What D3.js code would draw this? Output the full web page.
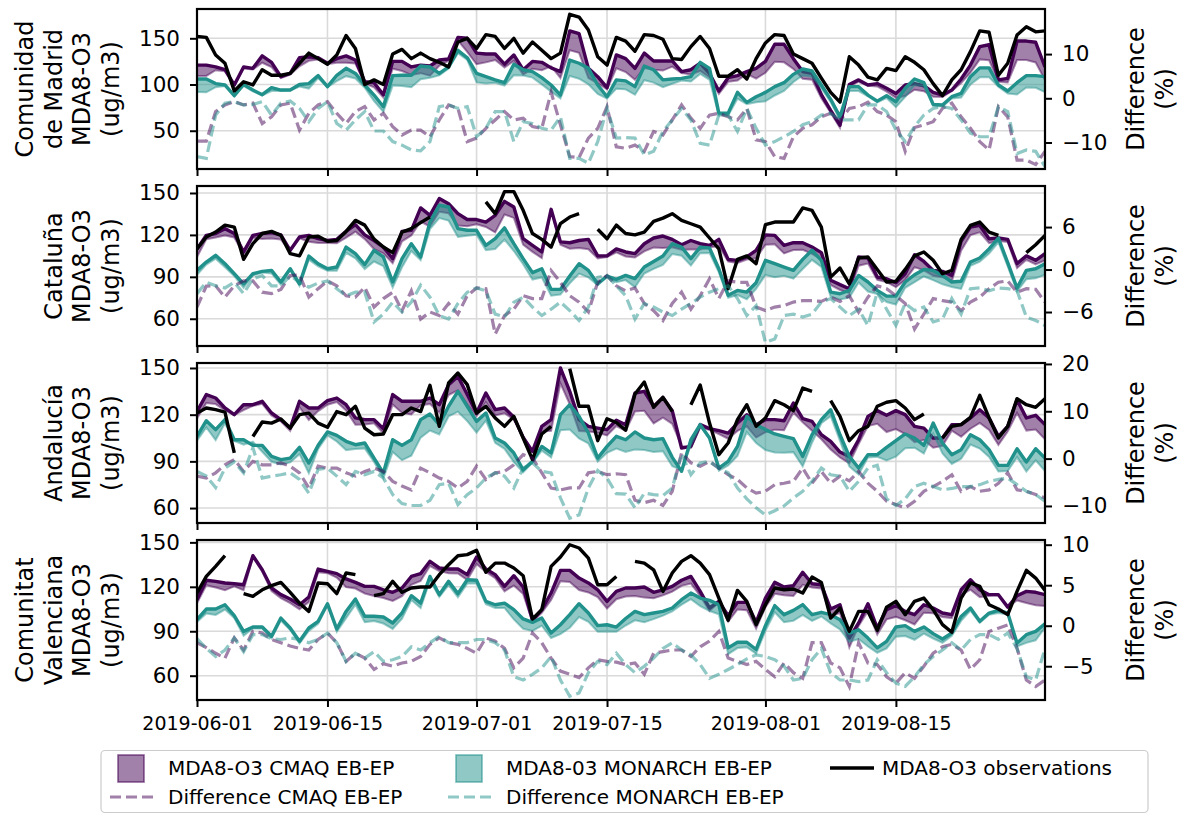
<!DOCTYPE html>
<html>
<head>
<meta charset="utf-8">
<script src="https://cdn.jsdelivr.net/npm/d3@7"></script>
<style>
body { margin: 0; background: #fff; }
svg text { font-family: "DejaVu Sans", sans-serif; fill: #000; }
</style>
</head>
<body>
<script>
// Canvas setup
const W = 1189, H = 814;

const startDay = new Date(2019, 5, 1);
const endDay = new Date(2019, 8, 1);
const days = d3.timeDay.range(startDay, endDay); // 2019-06-01 .. 2019-08-31
const xTickLabels = ["2019-06-01", "2019-06-15", "2019-07-01", "2019-07-15", "2019-08-01", "2019-08-15"];

// ---- Comunidad de Madrid
const madridObs = [152,151,132,123,93,103,99.5,116,110,110,112,123,134,128,122,132,153,139,100,105,100,133,138,128,134,128,124,119,146,150,139,154,152,139,150,134,146,137,128,134,176,173,159,130,121,151,147,136,154,153,149,128,127,141,152,139,109,109,116,106,128,145,154,153,133,128,123,107,91.5,81,130,121,108,105,117.5,115,130,124,116,101,88,105,116,135.6,158,156.5,110,123,153.6,162.6,157,158];
const madridCmaq = [121,121,119,116,99.5,119,117.5,131,124,108.5,112,129,130,129,123,128,131,126.5,103,102,89,125,125,119,121,120,126.5,127.6,151,150,134,133,133,122,132,116,125,124,118,114,158,155,117.5,108.5,96.6,132,128,117.5,134,125.5,125.5,125.5,114,116,123,112,93,107.4,109.6,114,117.5,125,143.5,143.5,128,114,112,89,72,56,100,105,99.5,101,96,90.4,99.5,101,98.7,91.5,88.6,94,106,121,141,143,105,106.7,147,147,145.7,119];
const madridCmaqDiff = [-9.7,-9.7,-3,-1.5,-0.75,-1.5,-1.1,-5.7,-4.2,-1.5,-1.1,-7.2,-3.4,-1.5,-0.75,-3.4,-5.7,-3,-1.9,-4.9,-3.4,-6.4,-8.3,-7.2,-7.2,-8.7,-4.9,-1.5,-2.3,-9.8,-9,-6.8,-4.9,-3,-4.9,-4.5,-6.4,-6.8,1.4,-6,-13.2,-13.4,-9,-6.8,-1.9,-11,-11.3,-10.6,-12,-7.5,-8.3,-4.9,-1.5,-4.5,-6.8,-3.8,-3.4,-4.2,-4.9,-2.3,-9.4,-9.8,-13.2,-13.6,-8.7,-6.8,-6,-4.2,-3.4,-5.1,-2.3,-1.9,-0.9,-3,-3.8,-5.3,-12,-6.6,-6,-5.3,-2.3,-1.1,-4.2,-6.8,-9.8,-11.7,-1.9,-4.2,-14,-14,-15,-12];
const madridMonarch = [106,106,101,99.5,88,100,94,89,96.6,94,94,100,101,109.6,97.7,110,117.5,112,99.5,88.6,76,109.6,110,110,120,119,112,119,137,129,112,108.5,105,102,122,116,114,107.4,99.5,88.6,126.5,123,117.5,99.5,86.8,105,104,97.7,120,116,105,106,106.7,108.5,124,117.5,69,69,91.5,80.7,86.8,91.5,97.7,102,111,116.8,114.6,99.5,84,65,97.7,97.7,88.6,82,88,81.4,96,106,102,78.5,77.8,86.8,90.4,108.5,118,118,99.5,93,102,109.6,109.6,108.5];
const madridMonarchDiff = [-13.2,-13.6,-3.8,-1.1,-0.75,-1.5,-1.4,-0.75,-3.8,-1.1,-0.6,-2.3,-5.3,-2.3,-0.75,-5.7,-7.2,-4.9,-3,-7.4,-7.4,-9.8,-10.6,-11.7,-11.9,-9.8,-1.9,-1.5,-2.3,-1.9,-8.7,-6.8,-3,-3,-9.8,-5.3,-5.7,-6.8,-7.2,-4.2,-13.6,-13.6,-14.7,-9.8,-2.3,-9,-8.9,-9,-12.8,-12,-7.5,-4.9,-2.3,-4.9,-10.2,-10.6,-3.8,-3.8,-7.5,-2.3,-6.8,-10.6,-9.8,-8.7,-7.5,-6,-5.3,-3.8,-3.4,-4.9,-4.9,-4.9,-1.5,-1.5,-3,-7.2,-9.8,-6.4,-3.8,-2.3,-1.9,-2.3,-4.9,-7.9,-8.7,-8.7,-1.9,-3,-12.5,-11.7,-12,-15.5];

// ---- Cataluña
const cataluObs = [110,118.5,122,127,125.6,102.5,113.7,121,122.5,119.7,106.6,105,118.5,119,115.4,116,122.5,130.4,127,117,111.3,107.3,122,124.5,128.8,132.8,null,null,null,null,null,143.6,135.2,151,151,137.6,121,116.8,111.3,128,132.8,135.2,null,124,117.3,127,121,120,122,129.7,132,135.2,130.4,128,125.6,117.8,110,81.5,102.5,105,99.4,127.3,129.2,129.2,129.2,139.3,137.6,125.6,89.8,96.3,85,103.5,104.2,95.3,86.3,86.8,95.3,105,107.8,101.8,92.2,94.6,116.8,126.8,129.2,122,119.7,null,null,107.3,113,119.7];
const cataluCmaq = [110,119.7,121,124.5,121,107.8,119.7,121,121.6,120,109,118.5,119.7,117.3,116,116.8,122.5,127.3,120,116,111.3,103,122.5,123.3,139.3,134,146,142.3,135.2,131,131,129.2,134,144,140,117.3,112.5,107.8,138.3,115,114.4,116,116.8,105,105,110,107.8,106.6,113.7,117.8,119.2,116.8,113,116,113.7,112.5,116.8,102.5,101.8,104.2,109,120,119.7,112.5,114.4,114.4,111.3,107.3,87.5,84.4,81.5,104.2,103.5,89.8,88.6,85.8,92.2,105.8,101,94.6,93.9,91,115.4,125.6,126.8,117.3,117.8,116.8,99.4,105,101.8,106.6];
const cataluCmaqDiff = [-5.3,-2.35,-2.3,-3.9,-2.3,-1.6,-1.6,-3.2,-3.4,-2.8,-0.85,-0.75,-3.9,-2.7,-1.6,-2.3,-3.7,-3.9,-2.5,-5.3,-4.1,-3.2,-5.8,-3,-7,-6,-6.5,-4.8,-6.3,-3.7,-2.6,-2.7,-9.1,-6.5,-5.6,-3.7,-4.1,-4.1,-0.15,-1.8,-3.7,-4.6,-6,-1.8,-0.85,-2.3,-3,-2.6,-4.8,-5.8,-7.2,-4.8,-3.2,-5.6,-3.7,-1.3,-4.1,-1.6,-1.8,-1.8,-5.3,-5.8,-5.3,-5.1,-4.6,-4.4,-4.4,-4.5,-3.9,-4.5,-3.7,-6,-3.9,-2.3,-2.7,-3.7,-4.8,-8.4,-6.3,-4.1,-4.4,-4.6,-5.8,-4.6,-3.9,-2.7,-1.8,-1.6,-3.2,-2.7,-2.8,-4.6];
const cataluMonarch = [94.6,100.6,105.4,99.4,92.2,85,92.2,93.9,94.6,86.3,95.8,85,104.9,99.4,95.8,97,111.3,106.6,98.7,109,104.2,86.3,103,113.7,104.2,129.2,141.2,140,124.5,123.3,123.3,112.5,117.3,125,113.7,103,93,95.8,81,81,90.6,99.4,94.6,85,90.6,88.2,91,88.7,97,101,104.9,113.7,111.3,103,111.3,110.6,95.8,76.8,80.3,79.1,85.8,101.8,99.4,97,94.6,102.5,109,101.8,79.1,77.9,80.3,91,86.3,80.3,76.2,76.2,86.3,91.5,95.3,94.6,91,86.3,86.8,100.6,103.5,110,117.8,100.1,82,94.6,95.8,99.4];
const cataluMonarchDiff = [-3.4,-1.8,-2.3,-2.6,-1.8,-3.4,-1.3,-0.85,-2.3,-2.3,-0.85,-1.8,-2.5,-1.9,-1.6,-2.7,-3.7,-3.2,-3.2,-7.4,-6.3,-4.6,-6,-4.6,-2.2,-3.9,-6.5,-7,-4.8,-3.2,-2.6,-3,-6.3,-6.7,-4.6,-3.9,-5.3,-6.5,-5.6,-4.6,-5.8,-7.2,-5.3,-1.1,-0.85,-2.3,-3.7,-7,-4.8,-5.3,-6,-6.5,-5.6,-4.8,-3.9,-3.2,-2.7,-2.3,-4.1,-6.5,-5.1,-10.3,-9.8,-6.5,-6.3,-6.7,-6.3,-4.6,-4.1,-5.3,-6.5,-5.6,-7.9,-3.2,-5.6,-7.9,-4.8,-5.8,-5.3,-7.4,-7,-4.1,-6.3,-2.7,-2.6,-3,-2.6,-2.7,-3,-6.7,-7.2,-7.9];

// ---- Andalucía
const andaluObs = [121,124.3,123.2,121.7,95.4,null,106,115.3,114.6,117.2,111.4,120,121,114.6,111.9,122,120,125.4,111.4,107.1,107.6,120,120,124.3,122,138.9,112.5,140.4,146.8,139.3,121,125.4,117.9,112.5,118.9,105,91.1,107.6,112.5,null,149.6,125.4,125.4,103.3,117.4,115,110,133.3,141,124.7,131.1,122.1,null,126.4,139,114.6,94.3,101.8,116.8,126.4,112.5,117.9,129,126.4,122.6,137.1,135,null,129,118.9,103.3,109.7,112.5,125.4,128,129,124.3,116.8,120.4,null,105,112.5,113.6,118.3,132.4,117.9,105,112.5,130.3,126.4,124.7,130.3];
const andaluCmaq = [122.1,132.9,130.7,124.3,120,126.4,126.4,128.6,121.1,116.8,111.4,128.6,124.3,124.3,129,130.7,126.4,117.9,116.8,116.8,111,132.9,128.6,128.6,128.6,130.7,126.4,139.3,144.6,132.9,121.1,133.9,123.2,124.3,118.3,105.4,96.4,112.5,116.8,150,135,116.8,112.5,111.4,110.4,116.4,113.5,133.9,135,125.4,131.1,122.6,98.6,99.6,113.6,111,109.7,108.2,114.6,120,113.6,116.8,116.8,116.1,127.5,117.4,115.7,107.1,102.9,96,93.2,103.9,118.9,122.6,119.6,122.6,120,112.5,111.4,105,105,113.6,113.6,117.9,123.2,117.9,106.1,112.5,129.6,117.9,119.6,113.6];
const andaluCmaqDiff = [-3.7,-4.1,-3,-1.3,-0.2,-2.7,-0.6,-1.3,-1.3,-0.9,-1.6,-3,-6.2,-1.6,-2,-2,-3,-3.7,-2.7,-2,-2.7,-4.8,-5.8,-6.6,-2,-3,-4.1,-4.8,-6.2,-4.8,-1.6,-4.4,-3,-2.7,-1.3,0.85,0.14,-3,-6.2,-6.6,-6.2,-6.2,-3,-2.7,-3.4,-3.2,-3.4,-8.8,-9.3,-8.8,-9.9,-6.9,1.2,-0.9,-1.6,-0.6,-2,-3.4,-4.4,-6.2,-7.3,-6.9,-5.5,-5.2,-4.8,-2,-5.2,-2.7,-5.2,-3.7,-4.7,-2.7,-5.2,-6.9,-9,-9.7,-10.4,-9,-6.9,-5.9,-4.8,-3.4,-6.9,-5.9,-6.9,-6.6,-5.2,-3,-6.6,-6.9,-7.6,-8.3];
const andaluMonarch = [106.1,116.1,110.4,116.8,103.9,103.9,100.3,100.3,93.2,91.1,92.1,99,88.9,100.3,108.9,106.7,102.9,100.7,101.8,92.1,82.5,103.9,100.3,103.9,116.8,120.4,113.6,125.4,135,125.4,115.7,121.1,105,101.8,95.4,84.6,90,99.6,95.4,120,126.4,118.9,108.2,92.1,99.6,106.1,103.9,108.9,105,103.9,104.6,92.6,83.6,103.9,113.6,105,85.7,90,99.6,118.9,113.6,110.4,107.6,106.1,104.6,93.2,107.1,116.8,123.2,107.1,93.2,85.7,94.3,94.3,99,103.3,107.6,105,100.3,114.6,101.8,94.3,97.5,107.1,103.9,97.5,87.4,87.4,98.1,89.6,98.1,92.1];
const andaluMonarchDiff = [-2.7,-3.7,-6.1,-2,-0.7,-3,2.3,-4.1,-3.7,-3.4,-3,-4.4,-7.3,-2.3,-2,-3.7,-5.5,-2.7,-3.4,-2.7,-4.1,-7.6,-9.5,-9.9,-9.9,-8.8,-5.5,-5.2,-9.7,-7.6,-6.2,-4.1,-3,-3.7,-6.2,-2,-0.9,-2.7,-3,-8.3,-12.6,-11.9,-6.2,-2.5,-4.1,-7.4,-7.5,-10.4,-7.3,-7.6,-7.8,-6.2,1,-3.4,-0.9,-0.6,-2,-3,-6.2,-8.5,-10.4,-11.9,-11,-10,-8.3,-6.9,-4.8,-2,-3.4,-3.7,-6.9,-4.8,-2,-1.4,-8.5,-9.9,-8.5,-5.9,-5.2,-5.9,-6.6,-6.3,-5.9,-5.9,-5.5,-4.8,-4.4,-4.1,-5.5,-6.9,-7.6,-9];

// ---- Comunitat Valenciana
const valenObs = [115.8,127,133.8,141,null,115.4,113.6,118,120.8,123,116.3,109,103.4,122.6,122.1,115.4,129.3,128.2,null,114,115.4,123.7,116.3,119.2,119.9,119.9,128.2,134.9,141,141.7,144.6,129.8,136,136,132.7,127.5,98.3,104.6,133.8,140.1,148.4,146.2,139.4,121.4,121.4,127,null,137.2,136,131.5,116.9,129.3,137.2,141,136,128.2,112.4,97.4,117.6,110.2,94.4,107.9,119.2,118,118.5,115.8,126.6,123,98.9,105.7,89.9,103.4,103.4,90.6,106.3,110.2,101.2,110.2,112.4,104.6,94.5,89.3,112.4,122.6,120.3,107.9,105,101.2,116.9,131.1,125.9,117.6];
const valenCmaq = [111.3,124.4,123.7,122.6,122.1,121.4,141,131.5,119.2,114.7,111.8,107.9,113.1,132,130.4,128.9,125.3,123,120.3,120.3,118,116.3,119.2,127,128.9,137.2,132.7,132,132,128.2,140.1,132,128.2,120.3,127.5,119.9,97.4,104.6,115.8,131.1,131.1,125.9,122.6,118,110.2,116.9,119.2,119.2,119.9,116.3,118,120.3,124.4,127,116.9,105.7,110.2,100.5,109.5,109.5,96,112.4,123,119.9,120.8,129.8,122.1,121.4,105,107.9,85.4,95.6,108.6,92.2,104.6,107.3,103.4,101.2,107.9,105.7,102.3,101.2,118,124.8,118,114.7,114.7,106.3,114,116.9,116.3,114.7];
const valenCmaqDiff = [-2.1,-2.7,-3.4,-4,-1.5,-3,-0.7,-0.9,-1.7,-2.1,-2.5,-2.8,-3,-1.7,-0.9,-2.1,-4.4,-3.4,-4,-5.4,-4.7,-5,-4.6,-4.4,-3.8,-2.3,-1.5,-2.1,-2.3,-2.8,-3.4,-1.5,-1.9,-2.8,-5.2,-4,-0.9,-2.1,-4,-5.6,-6,-6.4,-5.2,-4.2,-4.4,-4.5,-4.8,-4.6,-6,-3.4,-3.2,-3,-3,-3.8,-2.6,-1.9,-0.7,-4,-4.4,-4.8,-4.4,-5.4,-6.3,-4.6,-5.8,-6.5,-2.1,-2.1,-4.6,-5.2,-7.5,-2.1,-4.6,-4.8,-6.3,-7.1,-5.8,-6.5,-5,-3.4,-2.6,-2.3,-3,-5.4,-4.2,-0.7,-0.3,0.1,-2.8,-6.7,-7.5,-6.7];
const valenMonarch = [97.8,105,105,107.9,100.5,89.9,92.9,92.9,86.6,98.9,92.2,83.2,92.2,96.7,108.6,91.5,103.4,111.8,100.1,100.1,99.6,95.6,102.3,114,109,127,114.7,123.7,115.4,124.8,124.4,110.2,107.9,109,104.6,98.3,96,98.9,88.8,94.4,101.2,108.6,102.3,93.8,94.4,92.8,98.6,103.4,101.2,102.3,103.4,105.7,111.3,115.8,112.4,110.9,108,78.8,82.6,82.6,77.7,93.8,107.3,101.2,104.1,108,101.2,102.8,101.2,97.8,88.8,91,85.4,78.8,83.2,92.9,93.8,89.9,92.9,88.4,84.8,88.8,100,105.7,96.7,102.3,104.1,102.3,82,87.7,89.9,95.1];
const valenMonarchDiff = [-1.6,-2.8,-3.8,-3,-1.5,-3.2,-1.1,-1.1,-1.6,-1.7,-1.5,-1.7,-2.1,-1.7,-0.9,-2.1,-4.4,-3.4,-4,-3.2,-4.4,-4.2,-3.8,-2.6,-3,-2.1,-1.3,-2.1,-2.1,-2.1,-1.7,-1.7,-2.1,-3,-6.3,-6.7,-6,-5.2,-3.8,-6.7,-8.7,-8.3,-5.8,-4.4,-4.8,-3.4,-4.8,-5.8,-5,-4,-2.8,-2.1,-3,-3.6,-4.8,-6.5,-6,-5.4,-4.8,-4.1,-3.6,-3.8,-4.2,-5,-6.7,-6.5,-4.2,-2.8,-5.8,-6.7,-6.7,-6.9,-6.7,-4.2,-5.8,-7.1,-7.5,-6.3,-4.8,-3.8,-3,-2.1,-3,-1.7,-1.1,-1.1,-1.7,-0.9,-2.8,-6.3,-6.7,-2.8];

const legendLabels = ["MDA8-O3 CMAQ EB-EP", "MDA8-03 MONARCH EB-EP", "MDA8-O3 observations", "Difference CMAQ EB-EP", "Difference MONARCH EB-EP"];

const cmaqColor = "#440154";
const monarchColor = "#21918c";

const regions = [
    { label: ["Comunidad", "de Madrid", "MDA8-O3", "(ug/m3)"], obs: madridObs, cmaq: madridCmaq, cmaqDiff: madridCmaqDiff, monarch: madridMonarch, monarchDiff: madridMonarchDiff,
      yDomain: [8.6, 181.7], yTicks: [50, 100, 150], dDomain: [-16.0, 20.2], dTicks: [-10, 0, 10] },
    { label: ["Cataluña", "MDA8-O3", "(ug/m3)"], obs: cataluObs, cmaq: cataluCmaq, cmaqDiff: cataluCmaqDiff, monarch: cataluMonarch, monarchDiff: cataluMonarchDiff,
      yDomain: [40.5, 155], yTicks: [60, 90, 120, 150], dDomain: [-10.8, 11.8], dTicks: [-6, 0, 6] },
    { label: ["Andalucía", "MDA8-O3", "(ug/m3)"], obs: andaluObs, cmaq: andaluCmaq, cmaqDiff: andaluCmaqDiff, monarch: andaluMonarch, monarchDiff: andaluMonarchDiff,
      yDomain: [50.4, 153.2], yTicks: [60, 90, 120, 150], dDomain: [-13.6, 20.2], dTicks: [-10, 0, 10, 20] },
    { label: ["Comunitat", "Valenciana", "MDA8-O3", "(ug/m3)"], obs: valenObs, cmaq: valenCmaq, cmaqDiff: valenCmaqDiff, monarch: valenMonarch, monarchDiff: valenMonarchDiff,
      yDomain: [43.6, 151.6], yTicks: [60, 90, 120, 150], dDomain: [-9.17, 10.58], dTicks: [-5, 0, 5, 10] }
];

const svg = d3.select("body").append("svg")
    .attr("width", W)
    .attr("height", H);

const plotLeft = 197, plotRight = 1045;
const panelTops = [9, 186, 363, 540];
const panelH = 160;
const parseDay = d3.timeParse("%Y-%m-%d");
const xTicks = xTickLabels.map(parseDay);

const x = d3.scaleTime()
    .domain([days[0], days[days.length - 1]])
    .range([plotLeft, plotRight]);

regions.forEach((r, i) => {
    const top = panelTops[i], bottom = top + panelH;
    const y = d3.scaleLinear().domain(r.yDomain).range([bottom, top]);
    const yd = d3.scaleLinear().domain(r.dDomain).range([bottom, top]);

    const g = svg.append("g");

    g.append("clipPath").attr("id", "clip" + i)
        .append("rect")
        .attr("x", plotLeft).attr("y", top)
        .attr("width", plotRight - plotLeft).attr("height", panelH);

    // grid
    g.append("g").selectAll("line").data(xTicks).join("line")
        .attr("x1", d => x(d)).attr("x2", d => x(d))
        .attr("y1", top).attr("y2", bottom)
        .attr("stroke", "#dadada").attr("stroke-width", 1.6);
    g.append("g").selectAll("line").data(r.yTicks).join("line")
        .attr("x1", plotLeft).attr("x2", plotRight)
        .attr("y1", d => y(d)).attr("y2", d => y(d))
        .attr("stroke", "#dadada").attr("stroke-width", 1.6);

    const plot = g.append("g").attr("clip-path", `url(#clip${i})`);

    const bands = [
        { hi: r.cmaq, diff: r.cmaqDiff, color: cmaqColor },
        { hi: r.monarch, diff: r.monarchDiff, color: monarchColor }
    ];
    bands.forEach(b => {
        const pts = days.map((d, j) => ({ date: d, hi: b.hi[j], lo: b.hi[j] * (1 + b.diff[j] / 100) }));
        plot.append("path")
            .datum(pts)
            .attr("fill", b.color).attr("fill-opacity", 0.5)
            .attr("d", d3.area().x(d => x(d.date)).y0(d => y(d.lo)).y1(d => y(d.hi)));
        plot.append("path")
            .datum(pts)
            .attr("fill", "none").attr("stroke", b.color).attr("stroke-opacity", 0.45)
            .attr("stroke-width", 2)
            .attr("d", d3.line().x(d => x(d.date)).y(d => y(d.lo)));
        plot.append("path")
            .datum(pts)
            .attr("fill", "none").attr("stroke", b.color)
            .attr("stroke-width", 3.4).attr("stroke-linejoin", "round")
            .attr("d", d3.line().x(d => x(d.date)).y(d => y(d.hi)));
    });

    // observations, with gaps
    plot.append("path")
        .datum(days.map((d, j) => ({ date: d, v: r.obs[j] })))
        .attr("fill", "none").attr("stroke", "#000")
        .attr("stroke-width", 3.4).attr("stroke-linejoin", "round")
        .attr("d", d3.line().defined(d => d.v != null).x(d => x(d.date)).y(d => y(d.v)));

    // differences on the twin axis
    [[r.cmaqDiff, cmaqColor], [r.monarchDiff, monarchColor]].forEach(([vals, color]) => {
        plot.append("path")
            .datum(days.map((d, j) => ({ date: d, v: vals[j] })))
            .attr("fill", "none").attr("stroke", color).attr("stroke-opacity", 0.5)
            .attr("stroke-width", 3.2).attr("stroke-dasharray", "11,5")
            .attr("d", d3.line().x(d => x(d.date)).y(d => yd(d.v)));
    });

    // axes
    const leftAxis = g.append("g")
        .attr("transform", `translate(${plotLeft},0)`)
        .call(d3.axisLeft(y).tickValues(r.yTicks).tickSize(7).tickPadding(10));
    leftAxis.selectAll("text").style("font-size", "21.5px");

    const rightAxis = g.append("g")
        .attr("transform", `translate(${plotRight},0)`)
        .call(d3.axisRight(yd).tickValues(r.dTicks).tickSize(7).tickPadding(10));
    rightAxis.selectAll("text").style("font-size", "21.5px");

    const bottomAxis = g.append("g")
        .attr("transform", `translate(0,${bottom})`)
        .call(d3.axisBottom(x).tickValues(xTicks).tickSize(7).tickPadding(10)
            .tickFormat(i === regions.length - 1 ? d3.timeFormat("%Y-%m-%d") : () => ""));
    bottomAxis.selectAll("text").style("font-size", "19px");

    [leftAxis, rightAxis, bottomAxis].forEach(a => {
        a.select(".domain").remove();
        a.selectAll(".tick line").attr("stroke", "#000").attr("stroke-width", 2);
    });

    // frame
    g.append("rect")
        .attr("x", plotLeft).attr("y", top)
        .attr("width", plotRight - plotLeft).attr("height", panelH)
        .attr("fill", "none").attr("stroke", "#000").attr("stroke-width", 2.2);

    // y labels
    const lineGap = 28.7;
    const cy = (top + bottom) / 2;
    const n = r.label.length;
    const lab = g.append("text")
        .attr("transform", `translate(0,${cy}) rotate(-90)`)
        .attr("text-anchor", "middle")
        .style("font-size", "24px");
    r.label.forEach((t, k) => {
        lab.append("tspan").attr("x", 0).attr("y", 111 - (n - 1 - k) * lineGap)
            .attr("dominant-baseline", "central").text(t);
    });
    const rlab = g.append("text")
        .attr("transform", `translate(0,${cy}) rotate(-90)`)
        .attr("text-anchor", "middle")
        .style("font-size", "24px");
    ["Difference", "(%)"].forEach((t, k) => {
        rlab.append("tspan").attr("x", 0).attr("y", 1136 + k * lineGap)
            .attr("dominant-baseline", "central").text(t);
    });
});

// legend
const lg = svg.append("g");
lg.append("rect")
    .attr("x", 101).attr("y", 750.5).attr("width", 1047).attr("height", 62)
    .attr("rx", 4).attr("fill", "#fff").attr("stroke", "#cccccc").attr("stroke-width", 1.2);

const row1 = 768, row2 = 797;
[[118, cmaqColor], [456, monarchColor]].forEach(([px, color]) => {
    lg.append("rect").attr("x", px).attr("y", 755).attr("width", 26).attr("height", 27)
        .attr("fill", color).attr("fill-opacity", 0.5)
        .attr("stroke", color).attr("stroke-opacity", 0.6).attr("stroke-width", 1.6);
});
lg.append("line").attr("x1", 830).attr("x2", 874).attr("y1", row1).attr("y2", row1)
    .attr("stroke", "#000").attr("stroke-width", 3.4);
[[110, cmaqColor], [448, monarchColor]].forEach(([px, color]) => {
    lg.append("line").attr("x1", px).attr("x2", px + 44).attr("y1", row2).attr("y2", row2)
        .attr("stroke", color).attr("stroke-opacity", 0.5)
        .attr("stroke-width", 3.2).attr("stroke-dasharray", "11,5");
});
const legendPos = [[168, row1], [506, row1], [882, row1], [168, row2], [506, row2]];
legendLabels.forEach((t, k) => {
    lg.append("text").attr("x", legendPos[k][0]).attr("y", legendPos[k][1])
        .attr("dominant-baseline", "central")
        .style("font-size", "20px").text(t);
});
</script>
</body>
</html>
